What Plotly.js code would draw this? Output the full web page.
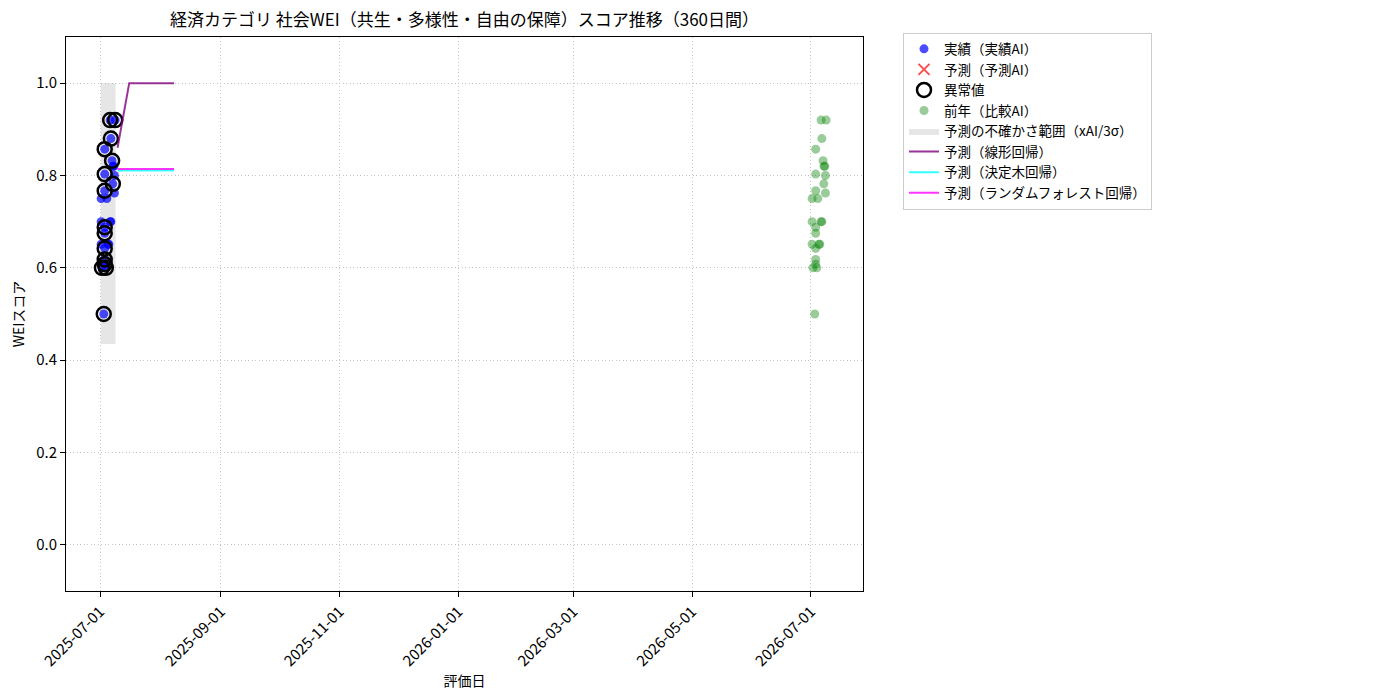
<!DOCTYPE html>
<html>
<head>
<meta charset="utf-8">
<script src="https://cdn.plot.ly/plotly-3.0.1.min.js"></script>
<style>
html,body{margin:0;padding:0;background:#fff;}
#chart{width:1400px;height:700px;}
.legend .traces{opacity:1 !important;}
</style>
</head>
<body>
<div id="chart"></div>
<script>
// ---- data ----
const actualDates = [
  '2025-07-06 05:00','2025-07-08 19:00','2025-07-06 14:00','2025-07-03 10:00','2025-07-07 05:00',
  '2025-07-07 17:00','2025-07-08 02:00','2025-07-08 10:00','2025-07-03 10:00','2025-07-07 14:00',
  '2025-07-08 10:00','2025-07-03 10:00','2025-07-01 14:00','2025-07-04 12:00','2025-07-01 14:00',
  '2025-07-06 05:00','2025-07-06 14:00','2025-07-03 10:00','2025-07-03 10:00','2025-07-01 14:00',
  '2025-07-05 02:00','2025-07-05 12:00','2025-07-03 10:00','2025-07-03 10:00','2025-07-03 10:00',
  '2025-07-02 00:00','2025-07-04 00:00','2025-07-02 22:00'
];
const actualValues = [
  0.92, 0.92, 0.88, 0.857, 0.832,
  0.82, 0.82, 0.80, 0.803, 0.782,
  0.762, 0.767, 0.75, 0.75, 0.70,
  0.70, 0.70, 0.688, 0.675, 0.651,
  0.651, 0.651, 0.642, 0.618, 0.608,
  0.60, 0.60, 0.50
];
const anomalyDates = [
  '2025-07-06 05:00','2025-07-08 19:00','2025-07-06 14:00','2025-07-03 10:00','2025-07-07 05:00',
  '2025-07-03 10:00','2025-07-07 14:00','2025-07-03 10:00','2025-07-03 10:00','2025-07-03 10:00',
  '2025-07-03 10:00','2025-07-03 10:00','2025-07-03 10:00','2025-07-02 00:00','2025-07-04 00:00',
  '2025-07-02 22:00'
];
const anomalyValues = [
  0.92, 0.92, 0.88, 0.857, 0.832,
  0.803, 0.782, 0.767, 0.688, 0.675,
  0.642, 0.618, 0.608, 0.60, 0.60,
  0.50
];
const prevDates = [
  '2026-07-06 05:00','2026-07-08 19:00','2026-07-06 14:00','2026-07-03 10:00','2026-07-07 05:00',
  '2026-07-07 17:00','2026-07-08 02:00','2026-07-08 10:00','2026-07-03 10:00','2026-07-07 14:00',
  '2026-07-08 10:00','2026-07-03 10:00','2026-07-01 14:00','2026-07-04 12:00','2026-07-01 14:00',
  '2026-07-06 05:00','2026-07-06 14:00','2026-07-03 10:00','2026-07-03 10:00','2026-07-01 14:00',
  '2026-07-05 02:00','2026-07-05 12:00','2026-07-03 10:00','2026-07-03 10:00','2026-07-03 10:00',
  '2026-07-02 00:00','2026-07-04 00:00','2026-07-02 22:00'
];
const prevValues = [
  0.92, 0.92, 0.88, 0.857, 0.832,
  0.82, 0.82, 0.80, 0.803, 0.782,
  0.762, 0.767, 0.75, 0.75, 0.70,
  0.70, 0.70, 0.688, 0.675, 0.651,
  0.651, 0.651, 0.642, 0.618, 0.608,
  0.60, 0.60, 0.50
];
// forecast-AI series: present in the legend, but has no plotted values
const forecastAIDates = ['2025-07-10'];
const forecastAIValues = [null];

const bandDates = ['2025-07-01 12:00', '2025-07-09 00:00'];
const bandLower = [0.435, 0.435];
const bandUpper = [1.0, 1.0];

const predDates = [
  '2025-07-10','2025-07-11','2025-07-12','2025-07-13','2025-07-14','2025-07-15','2025-07-16',
  '2025-07-17','2025-07-18','2025-07-19','2025-07-20','2025-07-21','2025-07-22','2025-07-23',
  '2025-07-24','2025-07-25','2025-07-26','2025-07-27','2025-07-28','2025-07-29','2025-07-30',
  '2025-07-31','2025-08-01','2025-08-02','2025-08-03','2025-08-04','2025-08-05','2025-08-06',
  '2025-08-07','2025-08-08'
];
const linearValues = [
  0.860, 0.883, 0.907, 0.930, 0.953, 0.977, 1.0,
  1.0, 1.0, 1.0, 1.0, 1.0, 1.0, 1.0,
  1.0, 1.0, 1.0, 1.0, 1.0, 1.0, 1.0,
  1.0, 1.0, 1.0, 1.0, 1.0, 1.0, 1.0,
  1.0, 1.0
];
const treeValues = [
  0.811,0.811,0.811,0.811,0.811,0.811,0.811,0.811,0.811,0.811,
  0.811,0.811,0.811,0.811,0.811,0.811,0.811,0.811,0.811,0.811,
  0.811,0.811,0.811,0.811,0.811,0.811,0.811,0.811,0.811,0.811
];
const forestValues = [
  0.814,0.814,0.814,0.814,0.814,0.814,0.814,0.814,0.814,0.814,
  0.814,0.814,0.814,0.814,0.814,0.814,0.814,0.814,0.814,0.814,
  0.814,0.814,0.814,0.814,0.814,0.814,0.814,0.814,0.814,0.814
];

const xTickVals = ['2025-07-01','2025-09-01','2025-11-01','2026-01-01','2026-03-01','2026-05-01','2026-07-01'];
const xTickText = ['2025-07-01','2025-09-01','2025-11-01','2026-01-01','2026-03-01','2026-05-01','2026-07-01'];
const yTickVals = [0.0, 0.2, 0.4, 0.6, 0.8, 1.0];
const yTickText = ['0.0','0.2','0.4','0.6','0.8','1.0'];

const FONT = '"Noto Sans CJK JP", "DejaVu Sans", sans-serif';

// ---- traces ----
const traces = [
  {
    name: '予測の不確かさ範囲（xAI/3σ）',
    x: [bandDates[0], bandDates[1], bandDates[1], bandDates[0], bandDates[0]],
    y: [bandLower[0], bandLower[1], bandUpper[1], bandUpper[0], bandLower[0]],
    type: 'scatter', mode: 'lines', fill: 'toself',
    fillcolor: 'rgba(128,128,128,0.2)', line: {width: 0, color: 'rgba(128,128,128,0)'},
    legendrank: 5, hoverinfo: 'skip'
  },
  {
    name: '実績（実績AI）', x: actualDates, y: actualValues, type: 'scatter', mode: 'markers',
    marker: {color: 'rgba(0,0,255,0.7)', size: 9, line: {width: 0}}, legendrank: 1
  },
  {
    name: '予測（予測AI）', x: forecastAIDates, y: forecastAIValues, type: 'scatter', mode: 'markers',
    marker: {color: 'rgba(255,0,0,0.7)', symbol: 'x-thin-open', size: 11, line: {width: 2, color: 'rgba(255,0,0,0.7)'}},
    legendrank: 2
  },
  {
    name: '異常値', x: anomalyDates, y: anomalyValues, type: 'scatter', mode: 'markers',
    marker: {color: 'black', symbol: 'circle-open', size: 14, line: {width: 2.5, color: 'black'}}, legendrank: 3
  },
  {
    name: '前年（比較AI）', x: prevDates, y: prevValues, type: 'scatter', mode: 'markers',
    marker: {color: 'rgba(0,128,0,0.4)', size: 9, line: {width: 0}}, legendrank: 4
  },
  {
    name: '予測（線形回帰）', x: predDates, y: linearValues, type: 'scatter', mode: 'lines',
    line: {color: 'rgba(128,0,128,0.8)', width: 2}, legendrank: 6
  },
  {
    name: '予測（決定木回帰）', x: predDates, y: treeValues, type: 'scatter', mode: 'lines',
    line: {color: 'rgba(0,255,255,0.8)', width: 2}, legendrank: 7
  },
  {
    name: '予測（ランダムフォレスト回帰）', x: predDates, y: forestValues, type: 'scatter', mode: 'lines',
    line: {color: 'rgba(255,0,255,0.8)', width: 2}, legendrank: 8
  }
];

const layout = {
  width: 1400, height: 700,
  margin: {l: 66, r: 537, t: 37, b: 109},
  paper_bgcolor: '#fff', plot_bgcolor: '#fff',
  font: {family: FONT, size: 14, color: '#000'},
  title: {text: '経済カテゴリ 社会WEI（共生・多様性・自由の保障）スコア推移（360日間）',
          x: 0.3318, xanchor: 'center', y: 0.971, yanchor: 'middle', font: {size: 17, family: FONT}},
  showlegend: true,
  legend: {x: 1.0502, xanchor: 'left', y: 1.008, yanchor: 'top',
           bordercolor: '#cccccc', borderwidth: 1, bgcolor: 'rgba(255,255,255,0.8)',
           font: {size: 13.5, family: FONT}, tracegroupgap: 0, itemwidth: 30},
  xaxis: {
    type: 'date', range: ['2025-06-13 13:00', '2026-07-27 17:00'],
    tickmode: 'array', tickvals: xTickVals, ticktext: xTickText, tickangle: -45,
    showgrid: true, gridcolor: '#c4c4c4', griddash: '1px,2.5px', gridwidth: 1,
    showline: true, linecolor: '#000', linewidth: 1, mirror: true,
    ticks: 'outside', ticklen: 5, tickcolor: '#000', zeroline: false,
    tickfont: {size: 15, family: FONT},
    title: {text: '評価日', font: {size: 14, family: FONT}, standoff: 0}
  },
  yaxis: {
    range: [-0.1, 1.1], tickmode: 'array', tickvals: yTickVals, ticktext: yTickText,
    showgrid: true, gridcolor: '#c4c4c4', griddash: '1px,2.5px', gridwidth: 1,
    showline: true, linecolor: '#000', linewidth: 1, mirror: true,
    ticks: 'outside', ticklen: 5, tickcolor: '#000', zeroline: false,
    tickfont: {size: 15, family: FONT},
    title: {text: 'WEIスコア', font: {size: 14, family: FONT}, standoff: 8}
  }
};

Plotly.newPlot('chart', traces, layout, {displayModeBar: false, staticPlot: true});
</script>
</body>
</html>
